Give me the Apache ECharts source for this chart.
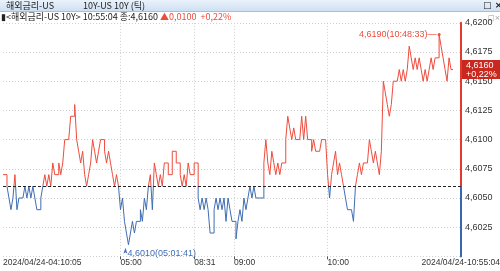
<!DOCTYPE html>
<html><head><meta charset="utf-8">
<script src="https://cdn.jsdelivr.net/npm/echarts@6/dist/echarts.min.js"></script>
<style>html,body{margin:0;padding:0;background:#fff}#c{width:500px;height:271px}</style>
</head><body><div id="c"></div>
<script>
// tick-by-tick yield (one value per sampled tick slot)
const yields = [
 4.607,4.607,4.606,4.605,4.604,4.605,4.607,4.604,4.605,4.605,
 4.605,4.606,4.605,4.606,4.605,4.606,4.605,4.604,4.604,4.605,
 4.606,4.607,4.606,4.607,4.606,4.608,4.607,4.607,4.608,4.607,
 4.608,4.610,4.610,4.610,4.612,4.612,4.613,4.610,4.609,4.608,
 4.609,4.607,4.606,4.607,4.608,4.610,4.609,4.608,4.609,4.610,
 4.610,4.609,4.608,4.609,4.608,4.607,4.606,4.607,4.606,4.604,
 4.605,4.603,4.602,4.601,4.602,4.603,4.602,4.603,4.603,4.604,
 4.603,4.605,4.604,4.606,4.607,4.604,4.608,4.607,4.606,4.607,
 4.606,4.608,4.608,4.607,4.607,4.609,4.609,4.608,4.608,4.607,
 4.606,4.607,4.606,4.608,4.607,4.607,4.608,4.608,4.605,4.604,
 4.605,4.604,4.605,4.604,4.602,4.602,4.604,4.605,4.604,4.605,
 4.604,4.605,4.603,4.605,4.604,4.603,4.603,4.6015,4.603,4.604,
 4.603,4.605,4.604,4.605,4.606,4.605,4.606,4.605,4.605,4.605,
 4.605,4.608,4.610,4.608,4.607,4.609,4.608,4.607,4.608,4.607,
 4.608,4.608,4.610,4.612,4.611,4.610,4.611,4.610,4.610,4.610,
 4.612,4.610,4.612,4.610,4.610,4.609,4.610,4.609,4.609,4.609,
 4.610,4.610,4.610,4.607,4.605,4.607,4.608,4.609,4.607,4.608,
 4.607,4.606,4.605,4.604,4.604,4.604,4.603,4.606,4.607,4.608,
 4.607,4.608,4.608,4.608,4.610,4.609,4.608,4.609,4.608,4.607,
 4.609,4.615,4.614,4.613,4.612,4.613,4.615,4.615,4.615,4.616,
 4.615,4.616,4.615,4.616,4.618,4.617,4.616,4.617,4.616,4.617,
 4.616,4.615,4.616,4.615,4.616,4.617,4.616,4.617,4.617,4.619,
 4.618,4.617,4.616,4.615,4.617,4.616,4.616
];
const totalSlots = 231;
const tickIndex = [0, 59, 96, 116, 163];
const tickLabels = ['2024/04/24-04:10:05', '05:00', '08:31', '09:00', '10:00'];
const lastTimeLabel = '2024/04/24-10:55:04';
const prevClose = 4.606;
const lastPrice = 4.616;
const changeText = '▲0,0100';
const changePct = '+0,22%';
const maxTime = '10:48:33';
const minTime = '05:01:41';
const yMin = 4.600, yMax = 4.620, yStep = 0.0025;
const headerTitle = '해외금리-US';
const headerSub = '10Y-US 10Y (틱)';
const infoText = '▮<해외금리-US 10Y> 10:55:04 종:4,6160 ';

const RED = '#ee4b3c', BLUE = '#3f6db3', BOXRED = '#c8281e';
const fmt = v => v.toFixed(4).replace('.', ',');
const cats = [];
for (let i = 0; i < totalSlots; i++) cats.push(String(i));
const labelMap = {};
tickIndex.forEach((k, j) => labelMap[k] = tickLabels[j]);
const isTick = (i) => labelMap[i] !== undefined;
const split = (yMax - prevClose) / (yMax - yMin);

const chart = echarts.init(document.getElementById('c'), null, {renderer: 'canvas'});
chart.setOption({
  animation: false,
  grid: {left: 0, right: 39, top: 22.8, bottom: 14.6},
  xAxis: {
    type: 'category', data: cats, boundaryGap: false,
    axisLine: {show: false},
    axisTick: {show: true, interval: (i) => isTick(i) && i > 0, length: 3, lineStyle: {color: '#555'}},
    axisLabel: {interval: (i) => isTick(i), formatter: (v, i) => labelMap[i] || '', align: 'left',
      margin: 1.5, fontSize: 8.5, fontFamily: 'Liberation Sans', color: '#333'},
    splitLine: {show: true, interval: (i) => isTick(i) && i > 0, lineStyle: {color: '#cfcfcf', type: [1, 2]}}
  },
  yAxis: {
    type: 'value', position: 'right', min: yMin, max: yMax, interval: yStep,
    axisLine: {show: true, lineStyle: {width: 2, color: new echarts.graphic.LinearGradient(0, 0, 0, 1, [
      {offset: 0, color: '#e23a2e'}, {offset: split, color: '#e23a2e'},
      {offset: split, color: '#3a66b0'}, {offset: 1, color: '#3a66b0'}])}},
    axisTick: {show: false},
    axisLabel: {showMinLabel: false, margin: 4, formatter: v => fmt(v), fontSize: 9, fontFamily: 'Liberation Sans', color: '#333'},
    splitLine: {show: true, lineStyle: {color: '#cfcfcf', type: [1, 2]}}
  },
  visualMap: {
    show: false, type: 'piecewise', dimension: 1, seriesIndex: 0,
    pieces: [{gte: yMin - 1, lt: prevClose, color: BLUE}, {gte: prevClose, lte: yMax + 1, color: RED}],
    outOfRange: {color: RED}
  },
  series: [{
    type: 'line', data: yields, step: 'end', showSymbol: false, symbol: 'none',
    lineStyle: {width: 1},
    markLine: {
      silent: true, symbol: ['none', 'none'], precision: 4,
      data: [
        {yAxis: prevClose, lineStyle: {type: [3, 2], color: '#222', width: 1}, label: {show: false}},
        {yAxis: lastPrice, lineStyle: {color: 'rgba(0,0,0,0)', width: 0},
         label: {show: true, position: 'end', distance: 1, formatter: fmt(lastPrice) + '\n' + changePct,
           backgroundColor: BOXRED, color: '#fff', fontSize: 9, lineHeight: 9, padding: [1, 4, 0, 4],
           fontFamily: 'Liberation Sans', align: 'left'}}
      ]
    },
    markPoint: {
      silent: true,
      data: [
        {type: 'max', symbol: 'circle', symbolSize: 3, itemStyle: {color: RED},
         label: {show: true, position: 'left', distance: 1, formatter: p => fmt(p.value) + '(' + maxTime + ')—',
           color: RED, fontSize: 9, fontFamily: 'Liberation Sans'}},
        {type: 'min', symbol: 'arrow', symbolSize: [3, 6], symbolOffset: [-3, 3], itemStyle: {color: BLUE},
         label: {show: true, position: 'right', distance: 0, offset: [0, 3], formatter: p => fmt(p.value) + '(' + minTime + ')',
           color: BLUE, fontSize: 9, fontFamily: 'Liberation Sans'}}
      ]
    }
  }],
  graphic: [
    {type: 'rect', shape: {x: 0, y: 0, width: 500, height: 11}, z: -1,
     style: {fill: new echarts.graphic.LinearGradient(0, 0, 0, 1, [{offset: 0, color: '#eaf2fb'}, {offset: 1, color: '#cfe0f2'}])}},
    {type: 'line', shape: {x1: 0, y1: 11.5, x2: 500, y2: 11.5}, style: {stroke: '#a9bfd8'}},
    {type: 'text', x: 6, y: 6, style: {text: headerTitle, font: '9px "Noto Sans CJK KR"', fill: '#222', verticalAlign: 'middle'}},
    {type: 'text', x: 83, y: 6, style: {text: headerSub, font: '9px "Noto Sans CJK KR"', fill: '#222', verticalAlign: 'middle'}},
    {type: 'text', x: 483, y: 6, style: {text: '□ ×', font: 'bold 9px "DejaVu Sans"', fill: '#222', verticalAlign: 'middle'}},
    {type: 'text', x: 1, y: 16.5, style: {
      text: '{a|' + infoText + '}{r|' + changeText + '  ' + changePct + '}',
      verticalAlign: 'middle',
      rich: {a: {fontSize: 9, fontFamily: 'Noto Sans CJK KR', fill: '#222', color: '#222'},
             r: {fontSize: 9, fontFamily: 'Noto Sans CJK KR', fill: RED, color: RED}}}},
    {type: 'text', x: 488, y: 18, style: {text: '□×', font: '7px "DejaVu Sans"', fill: '#999', verticalAlign: 'middle'}},
    {type: 'text', x: 500, y: 262.5, style: {text: lastTimeLabel, font: '8.5px "Liberation Sans"', fill: '#333', align: 'right', verticalAlign: 'middle'}}
  ]
});
</script></body></html>
